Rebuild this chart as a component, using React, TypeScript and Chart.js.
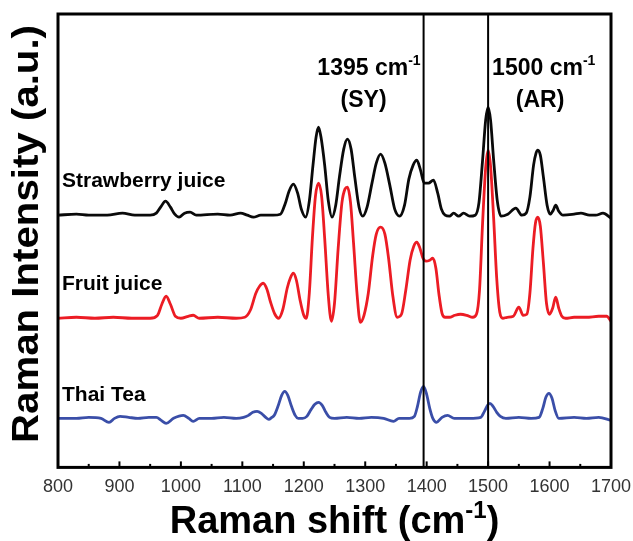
import React, { useEffect, useRef } from "react";
import { Chart, registerables } from "chart.js";

Chart.register(...registerables);

// ---------- data ----------
const xTickLabels: number[] = [800, 900, 1000, 1100, 1200, 1300, 1400, 1500, 1600, 1700];
const markerShifts: number[] = [1395, 1500];
const markerTexts: string[] = ["1395 cm", "1500 cm"];
const markerTags: string[] = ["(SY)", "(AR)"];
const seriesNames: string[] = ["Strawberry juice", "Fruit juice", "Thai Tea"];
const seriesColors: string[] = ["#0a0a0a", "#ec1c24", "#3a4ea8"];
const seriesOffsets: number[] = [252, 149, 49];

const strawberryJuice: [number, number][] = [
  [800, 0], [830, 1], [850, 0], [880, 0], [905, 2], [925, 0], [950, 0], [960, 2], [967, 8],
  [975, 14], [983, 8], [990, 1], [997, -2], [1006, 2], [1015, 3], [1025, 0], [1060, 1],
  [1080, 0], [1097, 2], [1108, 0], [1118, -2], [1130, 0], [1150, 0], [1162, 1], [1170, 12],
  [1176, 24], [1183, 31], [1190, 22], [1196, 6], [1203, -2], [1209, 14], [1215, 50],
  [1220, 78], [1224, 88], [1228, 78], [1234, 50], [1240, 14], [1246, -2], [1252, 10],
  [1258, 38], [1265, 66], [1271, 76], [1277, 66], [1283, 38], [1290, 8], [1296, -1],
  [1303, 8], [1311, 32], [1318, 52], [1325, 61], [1332, 52], [1340, 30], [1348, 6],
  [1356, -1], [1364, 10], [1371, 36], [1378, 50], [1384, 55], [1390, 45], [1396, 32],
  [1403, 32], [1411, 35], [1418, 22], [1424, 6], [1430, 0], [1437, -1], [1444, 2],
  [1452, -1], [1460, 2], [1470, -1], [1479, 0], [1485, 12], [1491, 55], [1496, 95],
  [1500, 108], [1504, 95], [1509, 55], [1515, 14], [1521, -1], [1532, 1], [1545, 7],
  [1555, 0], [1562, 2], [1568, 18], [1574, 50], [1578, 62], [1581, 65], [1585, 60],
  [1590, 38], [1596, 10], [1601, 1], [1606, 5], [1610, 10], [1615, 4], [1622, 0],
  [1640, 1], [1651, 2], [1665, 0], [1675, 0], [1687, 2], [1700, -3],
];

const fruitJuice: [number, number][] = [
  [800, 0], [830, 1], [860, 0], [890, 1], [920, 0], [950, 0], [962, 3], [969, 14],
  [976, 22], [983, 14], [991, 2], [1000, 0], [1012, 2], [1020, 3], [1030, 0], [1060, 1],
  [1090, 0], [1104, 1], [1113, 8], [1122, 25], [1128, 32], [1134, 35], [1140, 29],
  [1146, 16], [1153, 4], [1159, 0], [1166, 9], [1173, 30], [1178, 40], [1183, 45],
  [1188, 38], [1194, 18], [1200, 3], [1204, 0], [1209, 25], [1214, 80], [1219, 122],
  [1224, 135], [1229, 122], [1234, 80], [1240, 22], [1245, -3], [1250, 15], [1256, 70],
  [1262, 115], [1267, 129], [1271, 131], [1276, 116], [1281, 75], [1287, 22], [1292, -4],
  [1298, 3], [1305, 25], [1312, 62], [1318, 84], [1325, 91], [1332, 84], [1338, 60],
  [1345, 22], [1352, 1], [1359, 4], [1366, 28], [1373, 58], [1379, 72], [1384, 76],
  [1389, 70], [1394, 60], [1399, 57], [1405, 58], [1410, 60], [1415, 50], [1420, 24],
  [1425, 5], [1430, 1], [1437, 1], [1446, 3], [1455, 4], [1465, 3], [1475, 1], [1481, 4],
  [1486, 28], [1491, 95], [1496, 150], [1500, 168], [1504, 152], [1509, 100], [1514, 40],
  [1519, 6], [1524, 0], [1531, 1], [1541, 2], [1550, 11], [1557, 3], [1563, 4],
  [1568, 25], [1573, 70], [1577, 95], [1581, 101], [1585, 92], [1590, 55], [1595, 15],
  [1600, 4], [1605, 10], [1610, 21], [1615, 10], [1620, 2], [1626, 0], [1640, 1],
  [1660, 1], [1680, 2], [1693, 2], [1700, -3],
];

const thaiTea: [number, number][] = [
  [800, 0], [830, 0], [850, 1], [870, 0], [883, -4], [892, 0], [901, 2], [915, 1],
  [930, 0], [948, 1], [960, 1], [968, -2], [976, -5], [988, 0], [1004, 3], [1013, 0],
  [1020, -3], [1030, 0], [1050, 0], [1070, 1], [1090, 0], [1102, 1], [1110, 3],
  [1117, 6], [1124, 7], [1131, 5], [1138, 1], [1143, -1], [1148, 1], [1152, 3],
  [1158, 12], [1164, 23], [1169, 27], [1174, 23], [1180, 12], [1186, 3], [1191, 0],
  [1198, 0], [1205, 2], [1212, 9], [1218, 14], [1224, 16], [1230, 13], [1236, 6],
  [1242, 1], [1250, 0], [1270, 1], [1290, 0], [1310, 1], [1330, 0], [1346, -3],
  [1355, 0], [1372, 0], [1380, 2], [1385, 12], [1390, 26], [1395, 32], [1400, 24],
  [1405, 10], [1410, 0], [1416, -4], [1425, 1], [1434, 3], [1445, 0], [1470, 0],
  [1488, 1], [1494, 7], [1499, 13], [1503, 15], [1508, 12], [1514, 6], [1520, 2],
  [1529, 0], [1550, 1], [1570, 0], [1583, 1], [1589, 10], [1594, 21], [1599, 25],
  [1604, 20], [1609, 8], [1615, 0], [1640, 1], [1660, 0], [1680, 1], [1700, -2],
];

const spectra = [strawberryJuice, fruitJuice, thaiTea];

// ---------- layout / style ----------
const W = 633;
const H = 541;
const FONT = "'Liberation Sans', Arial, Helvetica, sans-serif";
const Y_MAX = 453;
const labelLift = [28, 28, 17];

function drawSup(
  ctx: CanvasRenderingContext2D,
  main: string,
  sup: string,
  tail: string,
  x: number,
  y: number,
  align: "left" | "right" | "center",
  size: number,
  supSize: number,
  rise: number
) {
  ctx.font = `bold ${size}px ${FONT}`;
  const wMain = ctx.measureText(main).width;
  const wTail = ctx.measureText(tail).width;
  ctx.font = `bold ${supSize}px ${FONT}`;
  const wSup = ctx.measureText(sup).width;
  const total = wMain + wSup + wTail;
  let x0 = x;
  if (align === "right") x0 = x - total;
  if (align === "center") x0 = x - total / 2;
  ctx.textAlign = "left";
  ctx.textBaseline = "alphabetic";
  ctx.font = `bold ${size}px ${FONT}`;
  ctx.fillText(main, x0, y);
  ctx.font = `bold ${supSize}px ${FONT}`;
  ctx.fillText(sup, x0 + wMain, y - rise);
  if (tail) {
    ctx.font = `bold ${size}px ${FONT}`;
    ctx.fillText(tail, x0 + wMain + wSup, y);
  }
}

const decorPlugin = {
  id: "decor",
  afterDatasetsDraw(chart: any) {
    const { ctx, chartArea: a, scales } = chart;
    const xs = scales.x;
    const ys = scales.y;
    ctx.save();
    ctx.fillStyle = "#000";
    ctx.strokeStyle = "#000";

    // inward ticks on the bottom axis
    ctx.lineWidth = 2;
    xs.ticks.forEach((t: any, i: number) => {
      const px = xs.getPixelForValue(t.value);
      ctx.beginPath();
      ctx.moveTo(px, a.bottom);
      ctx.lineTo(px, a.bottom - 6);
      ctx.stroke();
      if (i < xs.ticks.length - 1) {
        const mid = (t.value + xs.ticks[i + 1].value) / 2;
        const pm = xs.getPixelForValue(mid);
        ctx.beginPath();
        ctx.moveTo(pm, a.bottom);
        ctx.lineTo(pm, a.bottom - 3.5);
        ctx.stroke();
      }
    });

    // frame
    ctx.lineWidth = 3;
    ctx.strokeRect(a.left, a.top, a.right - a.left, a.bottom - a.top);

    // series labels
    ctx.font = `bold 21px ${FONT}`;
    ctx.textAlign = "left";
    ctx.textBaseline = "alphabetic";
    seriesNames.forEach((name, i) => {
      const py = ys.getPixelForValue(seriesOffsets[i]) - labelLift[i];
      ctx.fillText(name, a.left + 4, py);
    });

    // marker annotations
    const m0 = xs.getPixelForValue(markerShifts[0]);
    const m1 = xs.getPixelForValue(markerShifts[1]);
    drawSup(ctx, markerTexts[0], "-1", "", m0 - 3, a.top + 61, "right", 23, 14, 10);
    drawSup(ctx, markerTexts[1], "-1", "", m1 + 4, a.top + 61, "left", 23, 14, 10);
    ctx.font = `bold 23px ${FONT}`;
    ctx.textAlign = "center";
    ctx.fillText(markerTags[0], m0 - 60, a.top + 93);
    ctx.fillText(markerTags[1], m1 + 52, a.top + 93);

    // x title
    drawSup(ctx, "Raman shift (cm", "-1", ")", (a.left + a.right) / 2, 533, "center", 38, 24, 15);

    // y title
    ctx.save();
    ctx.translate(38, 234);
    ctx.rotate(-Math.PI / 2);
    ctx.font = `bold 36px ${FONT}`;
    const txt = "Raman Intensity (a.u.)";
    const w = ctx.measureText(txt).width;
    ctx.scale(418 / w, 1);
    ctx.textAlign = "center";
    ctx.textBaseline = "alphabetic";
    ctx.fillText(txt, 0, 0);
    ctx.restore();

    ctx.restore();
  },
};

export default function App() {
  const ref = useRef<HTMLCanvasElement | null>(null);

  useEffect(() => {
    document.body.style.margin = "0";
    const canvas = ref.current;
    if (!canvas) return;

    const seriesSets = spectra.map((pts, i) => ({
      label: seriesNames[i],
      data: pts.map(([x, y]) => ({ x, y: seriesOffsets[i] + y })),
      borderColor: seriesColors[i],
      borderWidth: 2.8,
      pointRadius: 0,
      cubicInterpolationMode: "monotone" as const,
      fill: false,
      order: i === 1 ? 1 : i === 0 ? 2 : 3,
    }));

    const markerSets = markerShifts.map((s) => ({
      label: `${s}`,
      data: [
        { x: s, y: 0 },
        { x: s, y: Y_MAX },
      ],
      borderColor: "#000",
      borderWidth: 2,
      pointRadius: 0,
      fill: false,
      order: 0,
    }));

    const chart = new Chart(canvas, {
      type: "line",
      data: { datasets: [...markerSets, ...seriesSets] as any },
      options: {
        responsive: false,
        animation: false,
        events: [],
        layout: { padding: { left: 58, right: 22, top: 14, bottom: 34 } },
        plugins: {
          legend: { display: false },
          tooltip: { enabled: false },
        },
        scales: {
          x: {
            type: "linear",
            min: xTickLabels[0],
            max: xTickLabels[xTickLabels.length - 1],
            afterBuildTicks: (scale: any) => {
              scale.ticks = xTickLabels.map((v) => ({ value: v }));
            },
            afterFit: (scale: any) => {
              scale.paddingLeft = 0;
              scale.paddingRight = 0;
            },
            grid: { display: false, drawTicks: false },
            border: { display: false },
            ticks: {
              padding: 9,
              color: "#333",
              font: { family: FONT, size: 18 },
              maxRotation: 0,
              autoSkip: false,
              callback: (v: any) => String(v),
            },
          },
          y: {
            type: "linear",
            min: 0,
            max: Y_MAX,
            display: false,
          },
        },
      },
      plugins: [decorPlugin],
    });

    return () => chart.destroy();
  }, []);

  return (
    <div style={{ width: W, height: H, background: "#fff" }}>
      <canvas ref={ref} width={W} height={H} style={{ display: "block" }} />
    </div>
  );
}
